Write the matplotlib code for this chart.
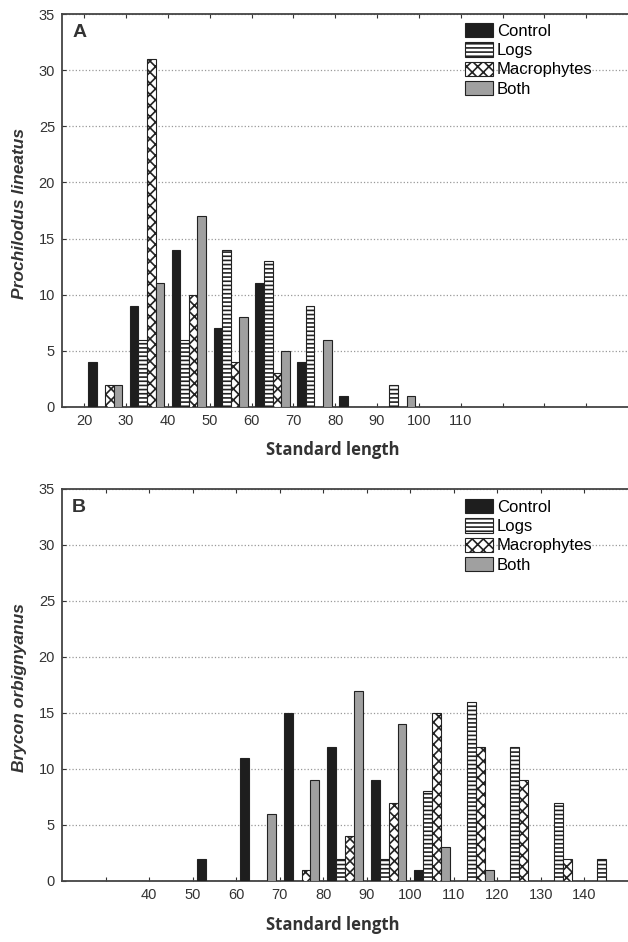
import matplotlib.pyplot as plt
import numpy as np

plt.rcParams['font.family'] = ['Liberation Sans', 'DejaVu Sans']
plt.rcParams['hatch.linewidth'] = 1.2

# panel A - Prochilodus lineatus
bins_a = [20, 30, 40, 50, 60, 70, 80, 90]
control_a = [4, 9, 14, 7, 11, 4, 1, 0]
logs_a = [0, 6, 6, 14, 13, 9, 0, 2]
macro_a = [2, 31, 10, 4, 3, 0, 0, 0]
both_a = [2, 11, 17, 8, 5, 6, 0, 1]
ticks_a = [20, 30, 40, 50, 60, 70, 80, 90, 100, 110, 120, 130, 140]
ticklabels_a = ['20', '30', '40', '50', '60', '70', '80', '90', '100', '110', '', '', '']

# panel B - Brycon orbignyanus
bins_b = [50, 60, 70, 80, 90, 100, 110, 120, 130, 140]
control_b = [2, 11, 15, 12, 9, 1, 0, 0, 0, 0]
logs_b = [0, 0, 0, 2, 2, 8, 16, 12, 7, 2]
macro_b = [0, 0, 1, 4, 7, 15, 12, 9, 2, 0]
both_b = [0, 6, 9, 17, 14, 3, 1, 0, 0, 0]
ticks_b = [30, 40, 50, 60, 70, 80, 90, 100, 110, 120, 130, 140]
ticklabels_b = ['', '40', '50', '60', '70', '80', '90', '100', '110', '120', '130', '140']

labels = ['Control', 'Logs', 'Macrophytes', 'Both']
faces = ['#1e1e1e', 'white', 'white', '#a0a0a0']
hatches = [None, '----', 'xxx', None]

W, H = 628, 942
fig = plt.figure(figsize=(W / 100, H / 100), dpi=100)


def panel(rect, bins, series, xlim, ticks, ticklabels, letter, leg_y):
    ax = fig.add_axes(rect)
    bins = np.array(bins)
    width = 2.05
    for i, vals in enumerate(series):
        ax.bar(bins + 1.95 + i * width, vals, width=width, color=faces[i],
               edgecolor='#222222', linewidth=0.8, hatch=hatches[i],
               label=labels[i], zorder=3)
    ax.set_xlim(xlim)
    ax.set_ylim(0, 35)
    ax.set_yticks(range(0, 36, 5))
    ax.set_xticks(ticks)
    ax.set_xticklabels(ticklabels)
    ax.tick_params(axis='both', direction='in', length=3, labelsize=10.5,
                   pad=5, colors='#333333', labelcolor='#333333')
    ax.tick_params(axis='x', top=True)
    ax.grid(axis='y', linestyle=':', color='#999999', linewidth=0.9, zorder=0)
    for s in ['left', 'top', 'bottom']:
        ax.spines[s].set_color('#444444')
        ax.spines[s].set_linewidth(1.3)
    ax.spines['right'].set_visible(False)
    ax.text(0.018, 0.975, letter, transform=ax.transAxes, fontsize=14,
            fontweight='bold', va='top', ha='left', color='#333333')
    ax.legend(loc='upper left', bbox_to_anchor=(465 / W, 1 - leg_y / H),
              bbox_transform=fig.transFigure, frameon=False, fontsize=12,
              borderpad=0, borderaxespad=0, handlelength=1.65,
              handleheight=0.95, handletextpad=0.25, labelspacing=0.2)
    return ax


ax1 = panel([62 / W, 1 - 407 / H, 1 - 62 / W, 393 / H], bins_a,
            [control_a, logs_a, macro_a, both_a], (14.7, 150),
            ticks_a, ticklabels_a, 'A', 23)
ax2 = panel([62 / W, 1 - 881 / H, 1 - 62 / W, 392 / H], bins_b,
            [control_b, logs_b, macro_b, both_b], (20, 150),
            ticks_b, ticklabels_b, 'B', 499)

fig.text(20 / W, 1 - 213 / H, 'Prochilodus lineatus', rotation=90, fontsize=12.5,
         fontweight='bold', style='italic', ha='center', va='center', color='#333333')
fig.text(20 / W, 1 - 688 / H, 'Brycon orbignyanus', rotation=90, fontsize=12.5,
         fontweight='bold', style='italic', ha='center', va='center', color='#333333')
fig.text(333 / W, 1 - 450 / H, 'Standard length', family='Open Sans', fontsize=12,
         fontweight='bold', ha='center', va='center', color='#333333')
fig.text(333 / W, 1 - 925 / H, 'Standard length', family='Open Sans', fontsize=12,
         fontweight='bold', ha='center', va='center', color='#333333')

fig.savefig('out.png', dpi=100)
